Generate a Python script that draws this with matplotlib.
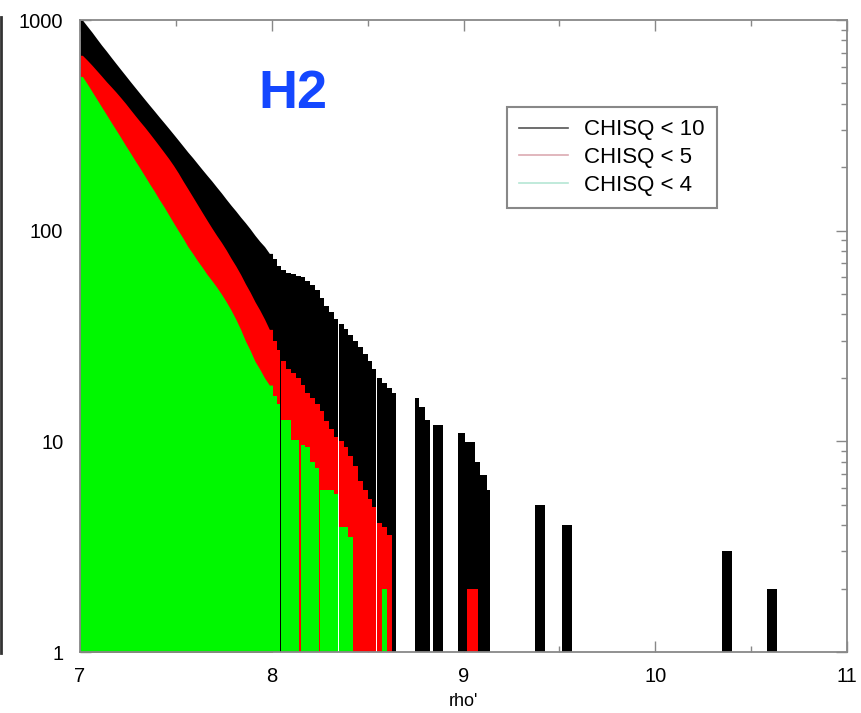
import numpy as np
import matplotlib.pyplot as plt
from matplotlib.lines import Line2D
from matplotlib.ticker import MultipleLocator, NullFormatter

plt.rcParams['font.family'] = ['Liberation Sans', 'DejaVu Sans']

# dense part: bins of 0.025 from 7.0 to 8.65 (66 bins)
bin_w = 0.025
bin_left = 7.0 + bin_w * np.arange(66)
gap_w = 0.006
smooth_end = 8.0   # below this the edge looks smooth in the original

black_h = [1000, 935, 875, 815, 760, 712, 665, 622, 582, 545,
           510, 478, 448, 420, 394, 370, 347, 326, 306, 287,
           269, 252, 236, 222, 208, 195, 183, 172, 161, 151,
           141, 132, 124, 116, 109, 102, 95, 89, 84, 78,
           73, 68, 65, 63, 62, 61, 60, 58, 55, 52,
           48, 44, 41, 38, 36, 34, 32, 30, 28, 26,
           24, 22, 20, 19, 18, 17]
red_h = [680, 645, 610, 575, 542, 510, 482, 455, 428, 402,
         376, 352, 330, 310, 290, 271, 253, 236, 220, 204,
         188, 172, 158, 145, 133, 122, 112, 103, 95, 88,
         81, 74, 68, 62, 56, 51, 46, 42, 38, 34,
         30, 27, 24, 22, 21, 20, 18.5, 17, 16, 15,
         14, 12.5, 11.5, 10.5, 10, 9.4, 8.5, 7.6, 6.5, 5.9,
         5.3, 4.9, 4.1, 3.9, 3.6, 1]
green_h = [540, 498, 458, 421, 387, 356, 327, 301, 277, 254,
           234, 215, 198, 182, 167, 154, 141, 130, 119, 109,
           100, 92, 84, 78, 72, 67, 62, 58, 54, 50,
           46, 42, 38, 34, 30, 27, 24, 22, 20, 18.5,
           16.5, 15, 12.6, 12.6, 10.1, 10.1, 9.6, 9.4, 8, 7.5,
           5.9, 5.9, 5.9, 5.6, 3.9, 3.9, 3.5, 1, 1, 1,
           1, 1, 1, 2, 1, 1]

# empty slivers (right edge of the bin that ends there)
black_gaps = [8.35, 8.55]
red_gaps = [8.05, 8.35, 8.55]
green_gaps = [8.05, 8.15, 8.25, 8.35]

# sparse tail
black_tail_lo = [8.745, 8.77, 8.80, 8.842, 8.971, 9.008, 9.06, 9.086, 9.122, 9.372, 9.513, 10.347, 10.582]
black_tail_hi = [8.77, 8.80, 8.826, 8.893, 9.008, 9.06, 9.086, 9.122, 9.138, 9.425, 9.566, 10.40, 10.635]
black_tail_h = [16, 14.5, 12.6, 12, 11, 9.9, 8, 6.9, 5.9, 5, 4, 3, 2]
red_tail_lo = [9.018]
red_tail_hi = [9.076]
red_tail_h = [2]

labels = ['CHISQ < 10', 'CHISQ < 5', 'CHISQ < 4']


def draw(ax, heights, gaps, tail_lo, tail_hi, tail_h, color):
    heights = np.asarray(heights, dtype=float)
    ns = int(np.sum(bin_left + bin_w <= smooth_end + 1e-9))
    # smooth upper part, through the bin centres
    xs = np.concatenate([[7.0], bin_left[:ns] + bin_w / 2, [smooth_end + 0.004]])
    ys = np.concatenate([[heights[0]], heights[:ns], [heights[ns - 1]]])
    ax.fill_between(xs, 1, ys, color=color, linewidth=0)
    # stepped lower part
    lo = list(bin_left[ns:]) + list(tail_lo)
    hi = [l + bin_w - (gap_w if np.any(np.isclose(l + bin_w, gaps)) else 0) for l in bin_left[ns:]]
    hi += list(tail_hi)
    hs = list(heights[ns:]) + list(tail_h)
    edges = [lo[0]]
    vals = []
    for l, r, h in zip(lo, hi, hs):
        if l > edges[-1] + 1e-9:
            vals.append(1)
            edges.append(l)
        vals.append(h)
        edges.append(r)
    ax.stairs(vals, edges, fill=True, baseline=1, color=color, linewidth=0)


fig = plt.figure(figsize=(8.61, 7.13), dpi=100)
ax = fig.add_axes([80 / 861, 1 - 652 / 713, 767 / 861, 632 / 713])
ax.set_axisbelow(True)

draw(ax, black_h, black_gaps, black_tail_lo, black_tail_hi, black_tail_h, '#000000')
draw(ax, red_h, red_gaps, red_tail_lo, red_tail_hi, red_tail_h, '#ff0000')
draw(ax, green_h, green_gaps, [], [], [], '#00f800')

ax.set_yscale('log')
ax.set_ylim(1, 1000)
ax.set_xlim(7, 11)
ax.set_xticks([7, 8, 9, 10, 11])
ax.xaxis.set_minor_locator(MultipleLocator(0.5))
ax.set_yticks([1, 10, 100, 1000], labels=['1', '10', '100', '1000'])
ax.yaxis.set_minor_formatter(NullFormatter())
ax.tick_params(which='both', direction='in', top=True, right=True, color='#888888', labelsize=14.5)
ax.tick_params(which='major', length=8, width=1)
ax.tick_params(which='minor', length=4, width=1)
ax.tick_params(axis='y', pad=12)
ax.tick_params(axis='x', pad=11)
for s in ax.spines.values():
    s.set_color('#888888')
    s.set_linewidth(1.3)
ax.set_xlabel("rho'", fontsize=13, labelpad=5)

handles = [Line2D([], [], color='#555555', lw=1.2),
           Line2D([], [], color='#dcaab2', lw=1.2),
           Line2D([], [], color='#b5e6d4', lw=1.2)]
leg = ax.legend(handles, labels, loc='upper left', bbox_to_anchor=(0.557, 0.862),
                fontsize=16, handlelength=2.2, handletextpad=0.7, labelspacing=0.3,
                fancybox=False, framealpha=1, borderpad=0.55, borderaxespad=0)
leg.get_frame().set_edgecolor('#888888')
leg.get_frame().set_linewidth(1.5)

fig.text(258 / 861, 1 - 108 / 713, 'H2', color='#1447ff', fontsize=39, fontweight='bold',
         ha='left', va='baseline')
fig.add_artist(Line2D([0.0015, 0.0015], [1 - 653 / 713, 1 - 17 / 713], transform=fig.transFigure,
                      color='#333333', lw=2))

fig.savefig('out.png', dpi=100)
